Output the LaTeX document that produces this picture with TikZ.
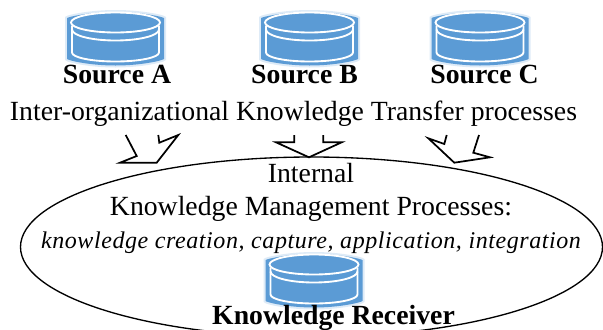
\documentclass[tikz,border=0pt]{standalone}
\usepackage{fontspec}
\setmainfont{Liberation Serif}
\usetikzlibrary{positioning}
\definecolor{dbblue}{HTML}{5B9BD5}
\tikzset{srclabel/.style={font=\fontsize{20.8}{24}\selectfont\bfseries, inner sep=0pt}}
\tikzset{bodytext/.style={font=\fontsize{20.8}{24}\selectfont, inner sep=0pt}}
\tikzset{italtext/.style={font=\fontsize{18}{21}\selectfont\itshape\addfontfeature{LetterSpace=2.4}, inner sep=0pt}}
\tikzset{blockarrow/.style={draw, black, line width=1.3pt, line join=miter}}
\tikzset{pics/dbicon/.style={code={
\draw[dbblue!20, line width=3pt, rounded corners=4pt] (-48.5,-15) arc[start angle=180, end angle=360, x radius=48.5, y radius=11.5] -- (48.5,15) arc[start angle=0, end angle=180, x radius=48.5, y radius=12] -- cycle;
\fill[dbblue, rounded corners=4pt] (-48.5,-15) arc[start angle=180, end angle=360, x radius=48.5, y radius=11.5] -- (48.5,15) arc[start angle=0, end angle=180, x radius=48.5, y radius=12] -- cycle;
\draw[white, line width=1.4pt] (0,-16) ellipse[x radius=44.5, y radius=10];
\draw[white, line width=1.4pt] (-43.5,-13) -- (-43.5,14) arc[start angle=180, end angle=0, x radius=43.5, y radius=9] -- (43.5,-13);
\draw[white, line width=1.4pt] (-43.5,-9) arc[start angle=180, end angle=0, x radius=43.5, y radius=11];
}}}
\begin{document}
\begin{tikzpicture}[x=0.75pt, y=-0.75pt]
\useasboundingbox (0,0) rectangle (603,329);
\begin{scope}
\clip (0,0) rectangle (603,329);
\draw[line width=1pt] (311.5,247) ellipse[x radius=291, y radius=90];
\end{scope}

\pic (dbA) at (115.5,38.5) {dbicon};
\pic (dbB) at (309.5,38.5) {dbicon};
\pic (dbC) at (480,38.5) {dbicon};
\pic (dbR) at (314,280.5) {dbicon};

\node[srclabel] (srcA) at (117,74.5) {Source A};
\node[srclabel] (srcB) at (304.5,74.5) {Source B};
\node[srclabel] (srcC) at (484.5,74.5) {Source C};

\node[bodytext] (transfer) at (293.5,114) {Inter-organizational Knowledge Transfer processes};
\node[bodytext] (internal) at (311,173.5) {Internal};
\node[bodytext] (kmp) at (311,209) {Knowledge Management Processes:};
\node[italtext] (kinds) at (311,243) {knowledge creation, capture, application, integration};
\node[srclabel] (receiver) at (333.5,318) {Knowledge Receiver};

\draw[blockarrow] (125.7,135) -- (136.7,156) -- (120,162.7) -- (156.7,162.7) -- (178.3,135) -- (159.3,142.7) -- (158.3,135);
\draw[blockarrow] (294.3,135) -- (294.3,142.3) -- (276,142.3) -- (309,157.3) -- (341.7,142.3) -- (323.3,142.3) -- (323.3,135);
\draw[blockarrow] (446.7,135) -- (444.3,144) -- (428.3,138.3) -- (454.3,162.7) -- (490,157.3) -- (473.3,152.7) -- (479,135);

\end{tikzpicture}
\end{document}
